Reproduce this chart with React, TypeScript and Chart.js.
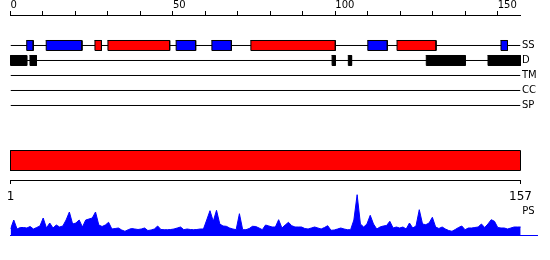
import React, { useEffect, useRef } from 'react';
import { Chart, registerables } from 'chart.js';

Chart.register(...registerables);

// ---------- data ----------
const SEQ_LENGTH = 157;
const TOP_TICK_STEP = 10;
const TOP_LABEL_STEP = 50;
const trackLabels = ['SS', 'D', 'TM', 'CC', 'SP'];

// secondary structure (SS track)
const ssRed: number[][] = [[26, 28], [30, 49], [74, 100], [119, 131]];
const ssBlue: number[][] = [[5, 7], [11, 22], [51, 57], [62, 68], [110, 116], [151, 153]];
// disorder (D track)
const disorderBlack: number[][] = [[0, 5], [6, 8], [99, 100], [104, 105], [128, 140], [147, 157]];
// empty tracks
const tmSegments: number[][] = [];
const ccSegments: number[][] = [];
const spSegments: number[][] = [];

// domain bar
const domainRed: number[][] = [[1, 157]];
const bottomTickValues = [1, SEQ_LENGTH];
const profileLabel = 'PS';

// per-residue profile (1..157)
const profileValues = [
  6, 15, 6, 7.5, 7.5, 7, 8.5, 6, 7.5, 9,
  17, 7, 12, 7, 10, 8, 9, 15, 23, 11,
  12, 15, 8, 15, 16, 17, 23, 10, 8.5, 10,
  12.7, 6, 6.5, 7, 5, 3.7, 5.3, 6.5, 6, 5.5,
  6, 7, 4.5, 5, 6, 9, 5.5, 5.3, 5.3, 5.5,
  6, 7, 8, 5.3, 6, 5.5, 5.3, 5.5, 6, 6,
  15, 24.3, 13.7, 24.7, 11, 9, 8.7, 7, 6, 5.3,
  21.3, 5.3, 5.3, 6.5, 8.7, 8.5, 7, 5.3, 10, 9,
  8, 8, 15.3, 7, 10, 12.7, 9.3, 8, 8, 8,
  6.5, 6, 7, 8, 7, 6, 7.5, 9.3, 4.7, 5,
  6, 7, 6, 5.3, 5.3, 15, 40.3, 11, 8, 11,
  19.7, 11, 6, 8, 9, 9.5, 13.7, 7, 8, 7,
  8, 6, 12, 7, 9, 25.3, 11, 10.3, 12, 17.7,
  8, 6.5, 8, 6, 4.5, 3.7, 5.5, 7.5, 9, 5.3,
  7, 7, 7.5, 8, 11, 7.5, 11, 15.3, 13.7, 7.5,
  7, 7, 6, 7, 8, 8, 8,
];

// ---------- styles ----------
const FONT = 'DejaVu Sans';
const BLACK = '#000000';
const RED = '#ff0000';
const BLUE = '#0000ff';
const PROFILE_X_MAX = 162;

function rectPoints(start: number, end: number, center: number, half: number) {
  return [
    { x: start, y: center - half },
    { x: end, y: center - half },
    { x: end, y: center + half },
    { x: start, y: center + half },
    { x: start, y: center - half },
  ];
}

function rectDataset(seg: number[], center: number, half: number, color: string): any {
  return {
    type: 'line',
    data: rectPoints(seg[0], seg[1], center, half),
    borderColor: BLACK,
    borderWidth: 1,
    backgroundColor: color,
    fill: 'shape',
    pointRadius: 0,
    tension: 0,
    borderCapStyle: 'square',
    borderJoinStyle: 'miter',
    clip: false,
    order: 1,
  };
}

function lineDataset(y: number): any {
  return {
    type: 'line',
    data: [{ x: 0, y }, { x: SEQ_LENGTH, y }],
    borderColor: BLACK,
    borderWidth: 1,
    fill: false,
    pointRadius: 0,
    tension: 0,
    order: 2,
  };
}

const noPad = (s: any) => {
  s.paddingTop = 0;
  s.paddingBottom = 0;
  s.paddingLeft = 0;
  s.paddingRight = 0;
};

const psLabelPlugin = {
  id: 'psLabel',
  afterDraw(chart: any) {
    const { ctx, chartArea, scales } = chart;
    ctx.save();
    ctx.font = `10px "${FONT}"`;
    ctx.fillStyle = BLACK;
    ctx.textAlign = 'left';
    ctx.textBaseline = 'middle';
    ctx.fillText(profileLabel, scales.x.getPixelForValue(SEQ_LENGTH) + 1.5, chartArea.top + 21.5);
    ctx.restore();
  },
};

export default function App() {
  const trackRef = useRef<HTMLCanvasElement>(null);
  const domainRef = useRef<HTMLCanvasElement>(null);
  const profileRef = useRef<HTMLCanvasElement>(null);

  useEffect(() => {
    const trackSegments: [number[][], string][][] = [
      [[ssBlue, BLUE], [ssRed, RED]],
      [[disorderBlack, BLACK]],
      [[tmSegments, BLACK]],
      [[ccSegments, BLACK]],
      [[spSegments, BLACK]],
    ];
    const trackDatasets: any[] = [];
    trackSegments.forEach((groups, i) => {
      groups.forEach(([segs, color]) => {
        segs.forEach((s) => trackDatasets.push(rectDataset(s, i, 1 / 3, color)));
      });
    });
    trackLabels.forEach((_, i) => trackDatasets.push(lineDataset(i)));

    const common = {
      animation: false as const,
      responsive: false,
      events: [] as any[],
      plugins: { legend: { display: false }, tooltip: { enabled: false } },
    };

    const trackChart = new Chart(trackRef.current!, {
      type: 'line',
      data: { datasets: trackDatasets },
      options: {
        ...common,
        layout: { padding: { left: 10.5, right: 0, top: 0, bottom: 0 } },
        scales: {
          x: {
            type: 'linear',
            position: 'top',
            min: 0,
            max: SEQ_LENGTH,
            afterFit: (s: any) => { s.height = 15; noPad(s); },
            ticks: {
              stepSize: TOP_TICK_STEP,
              includeBounds: false,
              autoSkip: false,
              maxRotation: 0,
              align: 'start',
              padding: 0,
              color: BLACK,
              font: { family: FONT, size: 10 },
              callback: (v: any) => (Number(v) % TOP_LABEL_STEP === 0 ? String(v) : ''),
            },
            grid: { drawOnChartArea: false, tickLength: 4, color: BLACK, lineWidth: 1 },
            border: { color: BLACK, width: 1 },
          },
          y: {
            type: 'linear',
            position: 'right',
            reverse: true,
            min: -2.0333,
            max: 5.3,
            afterFit: (s: any) => { s.width = 29.5; noPad(s); },
            afterBuildTicks: (s: any) => { s.ticks = trackLabels.map((_, i) => ({ value: i })); },
            ticks: {
              padding: 1.5,
              color: BLACK,
              font: { family: FONT, size: 10 },
              callback: (v: any) => trackLabels[Number(v)] ?? '',
            },
            grid: { display: false, drawTicks: false },
            border: { display: false },
          },
        },
      } as any,
    });

    const domainChart = new Chart(domainRef.current!, {
      type: 'line',
      data: { datasets: domainRed.map((s) => rectDataset(s, 0, 0.5, RED)) },
      options: {
        ...common,
        layout: { padding: { left: 10.5, right: 29.5, top: 0, bottom: 0 } },
        scales: {
          x: {
            type: 'linear',
            position: 'bottom',
            min: 1,
            max: SEQ_LENGTH,
            afterFit: (s: any) => { s.height = 30; noPad(s); },
            afterBuildTicks: (s: any) => { s.ticks = bottomTickValues.map((v) => ({ value: v })); },
            ticks: {
              autoSkip: false,
              maxRotation: 0,
              padding: 6,
              color: BLACK,
              font: { family: FONT, size: 12 },
            },
            grid: { drawOnChartArea: false, tickLength: 4, color: BLACK, lineWidth: 1 },
            border: { color: BLACK, width: 1 },
          },
          y: { display: false, min: -0.975, max: 1.025 },
        },
      } as any,
    });

    const profileChart = new Chart(profileRef.current!, {
      type: 'line',
      data: {
        datasets: [
          {
            data: profileValues.map((v, i) => ({ x: i + 1, y: v })),
            borderColor: BLUE,
            backgroundColor: BLUE,
            borderWidth: 1,
            fill: 'origin',
            pointRadius: 0,
            tension: 0,
          } as any,
        ],
      },
      options: {
        ...common,
        layout: { padding: { left: 10.5, right: 13, top: 5, bottom: 25 } },
        scales: {
          x: {
            type: 'linear',
            min: 1,
            max: PROFILE_X_MAX,
            afterFit: (s: any) => { s.height = 0; noPad(s); },
            ticks: { display: false },
            grid: { display: false, drawTicks: false },
            border: { color: BLUE, width: 1 },
          },
          y: { display: false, min: 0, max: 45 },
        },
      } as any,
      plugins: [psLabelPlugin],
    });

    return () => {
      trackChart.destroy();
      domainChart.destroy();
      profileChart.destroy();
    };
  }, []);

  return (
    <div style={{ position: 'fixed', left: 0, top: 0, width: 550, height: 260, background: '#ffffff' }}>
      <canvas ref={trackRef} width={550} height={125} style={{ position: 'absolute', left: 0, top: 0 }} />
      <canvas ref={domainRef} width={550} height={70} style={{ position: 'absolute', left: 0, top: 140 }} />
      <canvas ref={profileRef} width={550} height={75} style={{ position: 'absolute', left: 0, top: 185 }} />
    </div>
  );
}
